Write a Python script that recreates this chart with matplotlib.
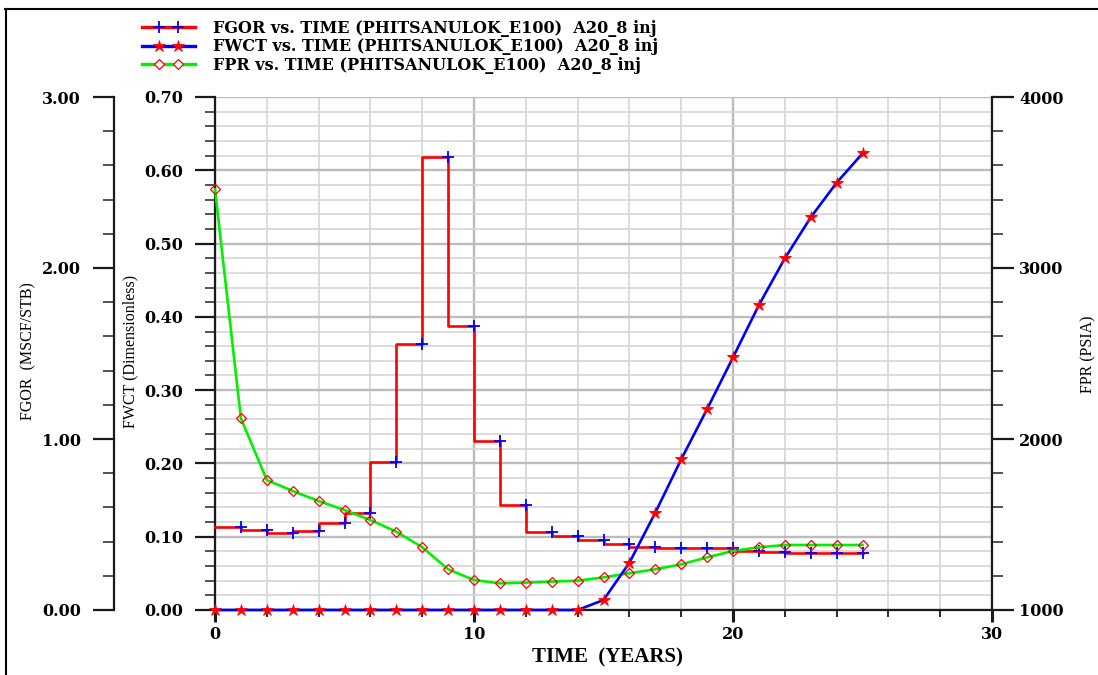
import matplotlib
matplotlib.use("Agg")
import matplotlib.pyplot as plt
from matplotlib.lines import Line2D
from matplotlib.legend_handler import HandlerLine2D
from matplotlib.ticker import MultipleLocator, FormatStrFormatter

# Field results, yearly report steps
years = list(range(0, 26))

# Field gas-oil ratio (MSCF/STB); the t=0 entry repeats the first report value
fgor = [0.484, 0.484, 0.468, 0.452, 0.462, 0.511, 0.567, 0.867, 1.557, 2.647,
        1.661, 0.988, 0.614, 0.458, 0.433, 0.409, 0.384, 0.366, 0.361, 0.361,
        0.361, 0.345, 0.339, 0.335, 0.332, 0.332]

# Field water cut (dimensionless)
fwct = [0.0, 0.0, 0.0, 0.0, 0.0, 0.0, 0.0, 0.0, 0.0, 0.0,
        0.0, 0.0, 0.0, 0.0, 0.0, 0.0136, 0.0645, 0.1328, 0.2056, 0.2742,
        0.3447, 0.4161, 0.4798, 0.5357, 0.583, 0.623]

# Field pressure (PSIA)
fpr = [3460, 2121, 1760, 1696, 1637, 1585, 1526, 1458, 1367, 1238,
       1175, 1156, 1160, 1166, 1171, 1191, 1215, 1238, 1267, 1308,
       1345, 1367, 1380, 1380, 1380, 1380]

legend_labels = [
    "FGOR vs. TIME (PHITSANULOK_E100)  A20_8 inj",
    "FWCT vs. TIME (PHITSANULOK_E100)  A20_8 inj",
    "FPR vs. TIME (PHITSANULOK_E100)  A20_8 inj",
]

RED = "#ff0000"
BLUE = "#0000ff"
GREEN = "#00f000"
AXC = "#1a1a1a"
TICKFONT = dict(family="DejaVu Serif", weight="bold", size=11.5)
LABELFONT = dict(family="Liberation Serif", size=11.5)


class SpacedMarkerHandler(HandlerLine2D):
    """Legend key: full-width line with two markers set in from the ends."""

    def create_artists(self, legend, orig_handle, xdescent, ydescent, width,
                       height, fontsize, trans):
        y = (height - ydescent) / 2
        line = Line2D([-xdescent, -xdescent + width], [y, y])
        self.update_prop(line, orig_handle, legend)
        line.set_marker("None")
        pad = self._marker_pad * fontsize
        marks = Line2D([-xdescent + pad, -xdescent + width - pad], [y, y])
        self.update_prop(marks, orig_handle, legend)
        marks.set_linestyle("None")
        line.set_transform(trans)
        marks.set_transform(trans)
        return [line, marks]


W, H = 1098, 675
fig = plt.figure(figsize=(W / 100, H / 100), dpi=100)
fig.patch.set_facecolor("white")

left, right, bottom, top = 215 / W, 992 / W, 1 - 610 / H, 1 - 97 / H
ax = fig.add_axes([left, bottom, right - left, top - bottom])
ax_gor = ax.twinx()
ax_fpr = ax.twinx()
ax_top = ax.twinx()

px = 0.72  # points per pixel

# ---- main axes: time axis, water-cut axis and grid ----
ax.set_xlim(0, 30)
ax.set_ylim(0, 0.70)
ax.xaxis.set_major_locator(MultipleLocator(10))
ax.xaxis.set_minor_locator(MultipleLocator(2))
ax.yaxis.set_major_locator(MultipleLocator(0.1))
ax.yaxis.set_minor_locator(MultipleLocator(0.02))
ax.yaxis.set_major_formatter(FormatStrFormatter("%.2f"))
ax.grid(which="minor", color="#d6d6d6", lw=1.2)
ax.grid(which="major", color="#bcbcbc", lw=1.7)
ax.set_axisbelow(True)
for s in ("top", "right"):
    ax.spines[s].set_visible(False)
for s in ("left", "bottom"):
    ax.spines[s].set_color(AXC)
    ax.spines[s].set_linewidth(1.6)
ax.tick_params(axis="y", which="major", direction="out", length=20 * px, width=1.6,
               color=AXC, pad=12 * px)
ax.tick_params(axis="y", which="minor", direction="out", length=10 * px, width=1.3,
               color="#444444")
ax.tick_params(axis="x", which="major", direction="out", length=12 * px, width=2.2,
               color=AXC, pad=3)
ax.tick_params(axis="x", which="minor", direction="out", length=7 * px, width=1.3,
               color=AXC)
for lab in ax.get_xticklabels() + ax.get_yticklabels():
    lab.set(**TICKFONT)
ax.set_xlabel("TIME  (YEARS)", family="Liberation Serif", weight="bold", size=15)
ax.xaxis.set_label_coords((607 - 215) / 777, (610 - 657) / 513)
ax.xaxis.label.set_va("center")
ax.set_ylabel("FWCT (Dimensionless)", **LABELFONT)
ax.yaxis.label.set_va("center")
ax.yaxis.set_label_coords((130 - 215) / 777, (610 - 351) / 513)

# ---- gas-oil ratio axis, offset to the far left ----
ax_gor.set_ylim(0, 3.0)
ax_gor.yaxis.set_ticks_position("left")
ax_gor.yaxis.set_label_position("left")
for s in ("top", "right", "bottom"):
    ax_gor.spines[s].set_visible(False)
ax_gor.spines["left"].set_visible(True)
ax_gor.spines["left"].set_position(("outward", 101 * px))
ax_gor.spines["left"].set_color(AXC)
ax_gor.spines["left"].set_linewidth(1.6)
ax_gor.yaxis.set_major_locator(MultipleLocator(1.0))
ax_gor.yaxis.set_minor_locator(MultipleLocator(0.2))
ax_gor.yaxis.set_major_formatter(FormatStrFormatter("%.2f"))
ax_gor.tick_params(axis="y", which="major", direction="out", length=21 * px, width=1.6,
                   color=AXC, pad=12 * px)
ax_gor.tick_params(axis="y", which="minor", direction="out", length=11 * px, width=1.3,
                   color="#444444")
for lab in ax_gor.get_yticklabels():
    lab.set(**TICKFONT)
ax_gor.set_ylabel("FGOR  (MSCF/STB)", **LABELFONT)
ax_gor.yaxis.label.set_va("center")
ax_gor.yaxis.set_label_coords((28 - 215) / 777, (610 - 351) / 513)

# ---- pressure axis on the right ----
ax_fpr.set_ylim(1000, 4000)
for s in ("top", "left", "bottom"):
    ax_fpr.spines[s].set_visible(False)
ax_fpr.spines["right"].set_color(AXC)
ax_fpr.spines["right"].set_linewidth(1.6)
ax_fpr.yaxis.set_major_locator(MultipleLocator(1000))
ax_fpr.yaxis.set_minor_locator(MultipleLocator(200))
ax_fpr.tick_params(axis="y", which="major", direction="out", length=22 * px, width=1.6,
                   color=AXC, pad=5 * px)
ax_fpr.tick_params(axis="y", which="minor", direction="out", length=11 * px, width=1.3,
                   color="#444444")
for lab in ax_fpr.get_yticklabels():
    lab.set(**TICKFONT)
ax_fpr.set_ylabel("FPR (PSIA)", **LABELFONT)
ax_fpr.yaxis.label.set_va("center")
ax_fpr.yaxis.set_label_coords((1088 - 215) / 777, (610 - 354) / 513)

# ---- overlay axes for the water cut curve ----
ax_top.set_ylim(0, 0.70)
ax_top.axis("off")

# ---- data ----
ax_gor.plot(years, fgor, drawstyle="steps-pre", color=RED, lw=1.9, clip_on=False)
ax_gor.plot(years[1:], fgor[1:], ls="none", marker="+", ms=9, mew=1.3, mec=BLUE,
            clip_on=False)

ax_fpr.plot(years, fpr, color=GREEN, lw=1.9, marker="D", ms=5, mfc="none",
            mec=RED, mew=0.9, clip_on=False)

ax_top.plot(years, fwct, color=BLUE, lw=1.9, marker="*", ms=9, mfc=RED, mec=RED,
            mew=0.6, clip_on=False)

# ---- legend ----
handles = [
    Line2D([], [], color=RED, lw=2.4, marker="+", ms=8, mew=1.3, mec=BLUE),
    Line2D([], [], color=BLUE, lw=2.4, marker="*", ms=9, mfc=RED, mec=RED, mew=0.6),
    Line2D([], [], color=GREEN, lw=2.4, marker="D", ms=5, mfc="white", mec=RED, mew=0.9),
]
legend_fs = 11.5
fs_px = legend_fs / px
fig.legend(handles, legend_labels, loc="upper left",
           bbox_to_anchor=(142 / W, 1 - 20 / H), frameon=False,
           borderpad=0, borderaxespad=0,
           handlelength=53 / fs_px, handletextpad=18 / fs_px,
           labelspacing=0.08,
           prop=dict(family="DejaVu Serif", weight="bold", size=legend_fs),
           handler_map={h: SpacedMarkerHandler(marker_pad=17 / fs_px, numpoints=2)
                        for h in handles})

# ---- page frame (top and left edges) ----
fig.add_artist(Line2D([5 / W, 1.0], [1 - 9 / H, 1 - 9 / H], color="black", lw=1.5,
                      transform=fig.transFigure))
fig.add_artist(Line2D([6 / W, 6 / W], [0, 1 - 9 / H], color="black", lw=1.5,
                      transform=fig.transFigure))

fig.savefig("out.png", dpi=100, facecolor="white")
